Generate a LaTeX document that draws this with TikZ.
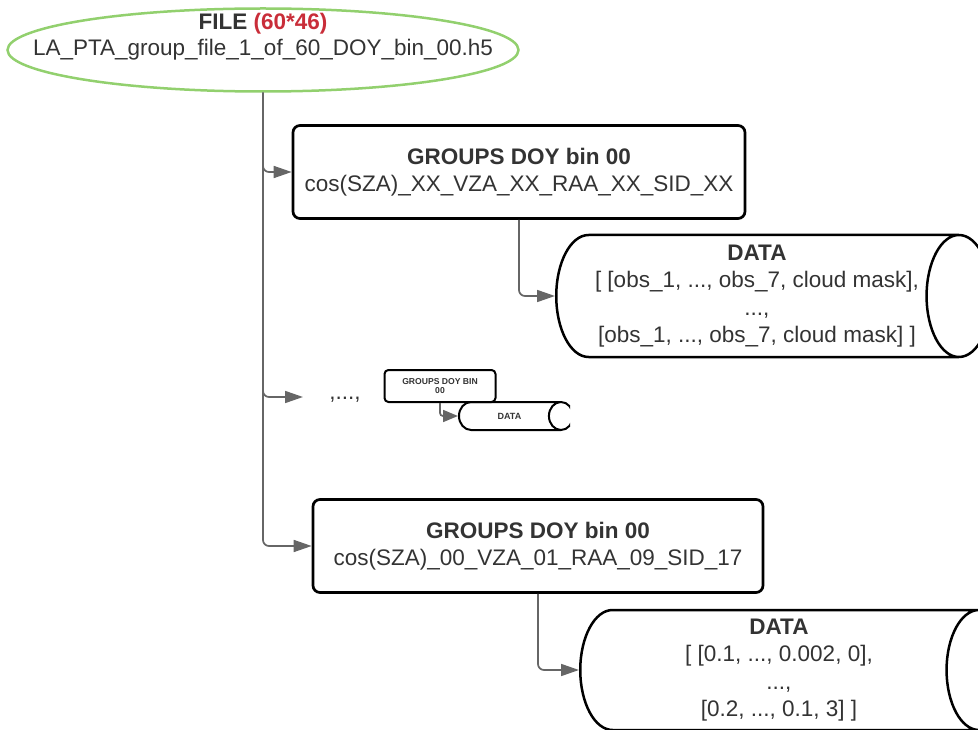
\documentclass[tikz,border=0pt]{standalone}
\usepackage{fontspec}
\setmainfont{Liberation Sans}
\usetikzlibrary{shapes.geometric,arrows.meta}
\definecolor{txtgray}{HTML}{333333}
\definecolor{linegray}{HTML}{666666}
\definecolor{filegreen}{HTML}{92D06E}
\definecolor{countred}{HTML}{C92D39}

\begin{document}
\begin{tikzpicture}[x=1pt,y=-1pt,
  every node/.style={text=txtgray,font=\fontsize{22.5}{27.5}\selectfont,align=center},
  filenode/.style={ellipse,draw=filegreen,line width=2.5pt,minimum width=511pt,minimum height=83pt,inner sep=0pt},
  groupbox/.style={rectangle,draw=black,line width=2.7pt,rounded corners=7pt,minimum width=452pt,minimum height=93pt},
  datacyl/.style={cylinder,anchor=west,draw=black,line width=2.5pt,aspect=0.63,inner sep=0pt},
  conn/.style={draw=linegray,line width=1.7pt,rounded corners=6pt,-{Triangle[length=18pt,width=12pt]}}]
  \clip (0,0) rectangle (978,730);
  \node[filenode,label={[yshift=26pt,font=\fontsize{22.5}{27.5}\selectfont\bfseries]center:FILE \textcolor{countred}{(60*46)}}] (file) at (263,50)
    {\makebox[0pt]{LA\_PTA\_group\_file\_1\_of\_60\_DOY\_bin\_00.h5}};
  % first group
  \node[groupbox] (group1) at (519,172) {\textbf{GROUPS DOY bin 00}\\cos(SZA)\_XX\_VZA\_XX\_RAA\_XX\_SID\_XX};
  \node[datacyl,minimum height=435pt,minimum width=122pt] (data1) at (555,296)
    {\textbf{DATA}\\{[ [obs\_1, ..., obs\_7, cloud mask],}\\...,\\{[obs\_1, ..., obs\_7, cloud mask] ]}};
  % the ones in between
  \coordinate (dotsarrow) at (303,397);
  \node (dots) at (345,400) {,...,};
  \node[groupbox,line width=2pt,rounded corners=4pt,minimum width=111pt,minimum height=32pt,inner sep=0pt,
    font=\fontsize{8.6}{10}\selectfont\bfseries] (smallgroup) at (440,386) {\raisebox{-8pt}{\shortstack{GROUPS DOY BIN\\00}}};
  \begin{scope}
    \clip (0,0) rectangle (570,730);
    \node[datacyl,line width=2pt,minimum height=114pt,minimum width=28pt,aspect=0.86,text height=14pt,text depth=14pt,
      font=\fontsize{9}{10}\selectfont\bfseries] (smalldata) at (458,416) {\raisebox{-3.5pt}{DATA}};
  \end{scope}
  % last group
  \node[groupbox,minimum width=450pt] (group2) at (538,546) {\textbf{GROUPS DOY bin 00}\\cos(SZA)\_00\_VZA\_01\_RAA\_09\_SID\_17};
  \node[datacyl,minimum height=431pt,minimum width=120pt] (data2) at (579,670)
    {\textbf{DATA}\\{[ [0.1, ..., 0.002, 0],}\\...,\\{[0.2, ..., 0.1, 3] ]}};
  \draw[conn] (file.south) |- (group1.west);
  \draw[conn] (file.south) |- (dotsarrow);
  \draw[conn] (file.south) |- (group2.west);
  \draw[conn] (group1.south) |- (data1.west);
  \draw[conn,rounded corners=3pt,-{Triangle[length=15pt,width=12pt]}] (smallgroup.south) |- (smalldata.west);
  \draw[conn] (group2.south) |- (data2.west);
\end{tikzpicture}
\end{document}
